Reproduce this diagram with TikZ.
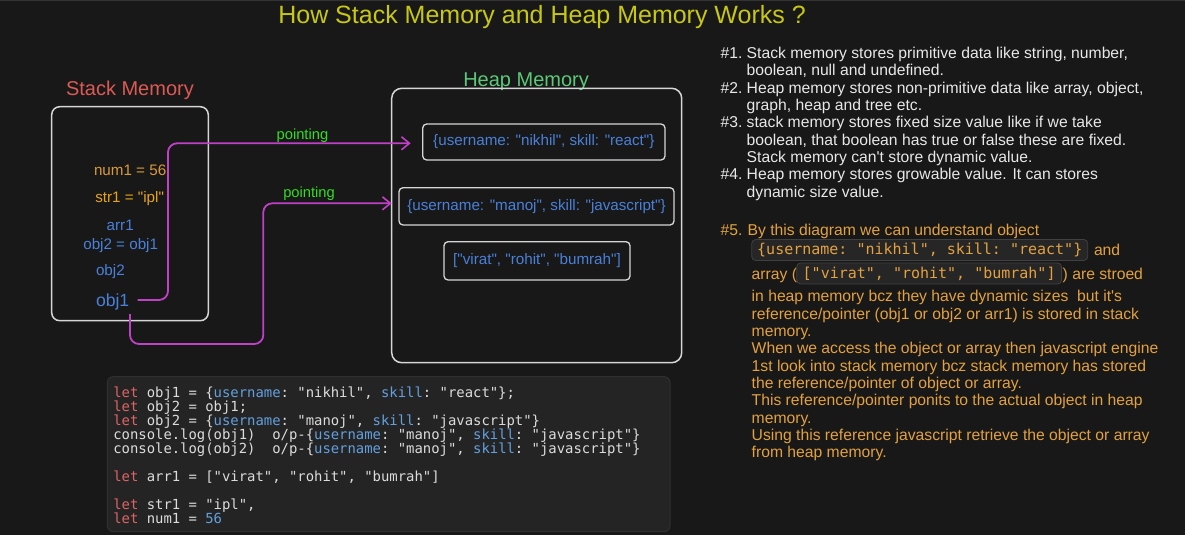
\documentclass[tikz,border=0pt]{standalone}
\usepackage{fontspec}
\setmainfont{Liberation Sans}[Ligatures=TeXOff]
\setmonofont{DejaVu Sans Mono}
\usetikzlibrary{arrows.meta,calc}
\definecolor{bg}{HTML}{181818}
\definecolor{topline}{HTML}{333333}
\definecolor{titlecol}{HTML}{C8C814}
\definecolor{stackred}{HTML}{DC5A55}
\definecolor{heapgreen}{HTML}{5CC878}
\definecolor{boxline}{HTML}{D6D6D6}
\definecolor{jsblue}{HTML}{4A80D8}
\definecolor{numorange}{HTML}{D99A3A}
\definecolor{strorange}{HTML}{E8A317}
\definecolor{pointer}{HTML}{C040C8}
\definecolor{pointgreen}{HTML}{33DD22}
\definecolor{codebg}{HTML}{242424}
\definecolor{codeborder}{HTML}{303030}
\definecolor{kwred}{HTML}{E06464}
\definecolor{codewhite}{HTML}{DCDCDC}
\definecolor{keyblue}{HTML}{62A0E0}
\definecolor{notewhite}{HTML}{E8E8E8}
\definecolor{noteorange}{HTML}{E3A13F}
\definecolor{chipbg}{HTML}{262626}
\definecolor{chipborder}{HTML}{404040}
\newcommand{\kw}[1]{\textcolor{kwred}{#1}}
\newcommand{\ky}[1]{\textcolor{keyblue}{#1}}
\begin{document}
\begin{tikzpicture}[x=1pt,y=-1pt,
  every node/.style={inner sep=0pt, outer sep=0pt},
  txt/.style={anchor=base west},
  memlabel/.style={txt, font=\fontsize{20}{24}\selectfont},
  memframe/.style={draw=boxline, line width=1.5pt, rounded corners=8pt},
  heapitem/.style={draw=boxline, line width=1.3pt, rounded corners=4pt, text=jsblue,
     font=\fontsize{15.2}{18}\selectfont},
  stackvar/.style={txt, font=\fontsize{15.2}{18}\selectfont},
  ptr/.style={draw=pointer, line width=1.8pt, rounded corners=9pt,
     -{Straight Barb[length=8pt,width=13pt,line width=1.6pt]}},
  ptrlabel/.style={txt, text=pointgreen, font=\fontsize{14.7}{18}\selectfont},
  codeline/.style={txt, text=codewhite, font=\ttfamily\fontsize{13.9}{14}\selectfont},
  note/.style={txt, text=notewhite, font=\fontsize{15.7}{17}\selectfont},
  note5/.style={txt, text=noteorange, font=\fontsize{15.7}{17}\selectfont},
  chip/.style={draw=chipborder, fill=chipbg, rounded corners=4pt, line width=0.8pt,
     text=noteorange, font=\ttfamily\fontsize{15}{17}\selectfont, inner xsep=5.5pt,
     minimum height=21pt, anchor=west}
]
% background
\fill[bg] (0,0) rectangle (1185,535);
\useasboundingbox (0,0) rectangle (1185,535);
\draw[topline, line width=1.5pt] (0,0.75) -- (1185,0.75);

% title
\node[txt, text=titlecol, font=\fontsize{25}{28}\selectfont] (title) at (278.3,23.3)
  {How Stack Memory and Heap Memory Works ?};

% stack memory
\node[memlabel, text=stackred] (stacklabel) at (66,95) {Stack Memory};
\draw[memframe] (51.7,106.7) rectangle (208.3,320.7);
\node[stackvar, text=numorange] (num1) at (94,175) {num1 = 56};
\node[stackvar, text=strorange] (str1) at (95.3,202.7) {str1 = "ipl"};
\node[stackvar, text=jsblue] (arr1) at (106.7,230) {arr1};
\node[stackvar, text=jsblue] (obj2eq) at (83.3,249.3) {obj2 = obj1};
\node[stackvar, text=jsblue] (obj2) at (96,275) {obj2};
\node[txt, text=jsblue, font=\fontsize{17.6}{20}\selectfont] (obj1) at (96,306) {obj1};

% heap memory
\node[memlabel, text=heapgreen] (heaplabel) at (463.3,86) {Heap Memory};
\draw[memframe, rounded corners=10pt] (391.7,88.3) rectangle (681.7,362.7);
\node[heapitem, minimum width=242.3pt, minimum height=36pt] (h1) at (543.85,142)
  {\{username: "nikhil", skill: "react"\}};
\node[heapitem, minimum width=275pt, minimum height=37.3pt] (h2) at (536.5,206.35)
  {\{username: "manoj", skill: "javascript"\}};
\node[heapitem, minimum width=186pt, minimum height=38.3pt] (h3) at (537,260.85)
  {["virat", "rohit", "bumrah"]};

% pointers
\coordinate (p1) at (137.7,300);
\coordinate (p2) at (130,314);
\draw[ptr, shorten >=12pt] (p1) -- (168,300) -- (168,143.3) -- ([yshift=-1.3pt]h1.west);
\draw[ptr, shorten >=7.3pt] (p2) -- (130,344) -- (263.3,344) -- (263.3,203.3) -- ([yshift=3pt]h2.west);
\node[ptrlabel] (pt1) at (276.7,139.3) {pointing};
\node[ptrlabel] (pt2) at (283.3,197.7) {pointing};

% code box
\draw[codeborder, fill=codebg, line width=1pt, rounded corners=6pt] (107.3,376.7) rectangle (670,531.7);
\node[codeline] (c1) at (113.3,397.3) {\kw{let} obj1 = \{\ky{username}: "nikhil", \ky{skill}: "react"\};};
\node[codeline] (c2) at (113.3,411.3) {\kw{let} obj2 = obj1;};
\node[codeline] (c3) at (113.3,425.3) {\kw{let} obj2 = \{\ky{username}: "manoj", \ky{skill}: "javascript"\}};
\node[codeline] (c4) at (113.3,439.3) {console.log(obj1)\ \ o/p-\{\ky{username}: "manoj", \ky{skill}: "javascript"\}};
\node[codeline] (c5) at (113.3,453.3) {console.log(obj2)\ \ o/p-\{\ky{username}: "manoj", \ky{skill}: "javascript"\}};
\node[codeline] (c6) at (113.3,481.3) {\kw{let} arr1 = ["virat", "rohit", "bumrah"]};
\node[codeline] (c7) at (113.3,509.3) {\kw{let} str1 = "ipl",};
\node[codeline] (c8) at (113.3,523.3) {\kw{let} num1 = \ky{56}};

% notes 1-4
\node[note] (n1a) at (720.7,58.3) {\#1.};
\node[note] (n1b) at (746.7,58.3) {Stack memory stores primitive data like string, number,};
\node[note] (n1c) at (746.7,75.6) {boolean, null and undefined.};
\node[note] (n2a) at (720.7,93) {\#2.};
\node[note] (n2b) at (746.7,93) {Heap memory stores non-primitive data like array, object,};
\node[note] (n2c) at (746.7,110.3) {graph, heap and tree etc.};
\node[note] (n3a) at (720.7,127.6) {\#3.};
\node[note] (n3b) at (746.7,127.6) {stack memory stores fixed size value like if we take};
\node[note] (n3c) at (746.7,145) {boolean, that boolean has true or false these are fixed.};
\node[note] (n3d) at (746.7,162.3) {Stack memory can't store dynamic value.};
\node[note] (n4a) at (720.7,179.6) {\#4.};
\node[note] (n4b) at (746.7,179.6) {Heap memory stores growable value. It can stores};
\node[note] (n4c) at (746.7,197) {dynamic size value.};

% note 5
\node[note5] (n5a) at (720.7,235) {\#5.};
\node[note5] (n5b) at (747.7,235) {By this diagram we can understand object};
\node[chip] (chip1) at (751.7,250) {\{username: "nikhil", skill: "react"\}};
\node[note5] (n5c) at (1094,255) {and};
\node[note5] (n5d) at (751.7,279.3) {array (};
\node[chip, inner xsep=6pt] (chip2) at (796.7,273.5) {["virat", "rohit", "bumrah"]};
\node[note5] (n5e) at (1062.7,279.3) {) are stroed};
\node[note5] (n5f) at (751.7,301.7) {in heap memory bcz they have dynamic sizes\ \ but it's};
\node[note5] (n5g) at (751.7,319) {reference/pointer (obj1 or obj2 or arr1) is stored in stack};
\node[note5] (n5h) at (751.7,336.3) {memory.};
\node[note5] (n5i) at (751.7,353.6) {When we access the object or array then javascript engine};
\node[note5] (n5j) at (751.7,371) {1st look into stack memory bcz stack memory has stored};
\node[note5] (n5k) at (751.7,388.3) {the reference/pointer of object or array.};
\node[note5] (n5l) at (751.7,405.7) {This reference/pointer ponits to the actual object in heap};
\node[note5] (n5m) at (751.7,423) {memory.};
\node[note5] (n5n) at (751.7,440.4) {Using this reference javascript retrieve the object or array};
\node[note5] (n5o) at (751.7,457.7) {from heap memory.};
\end{tikzpicture}
\end{document}
